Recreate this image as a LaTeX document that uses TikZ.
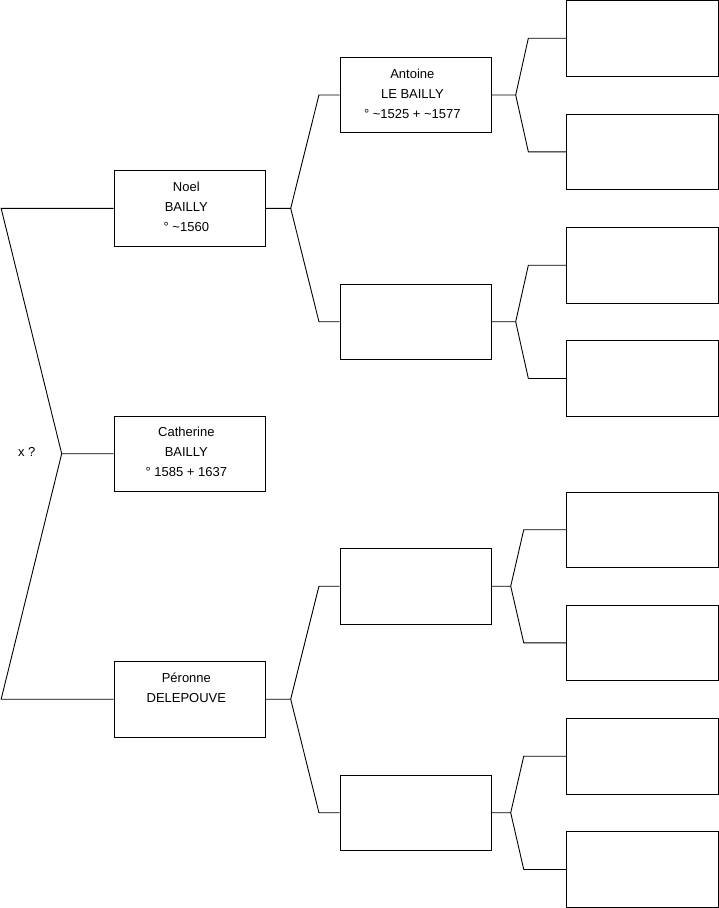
\documentclass[tikz,border=0pt]{standalone}
\usepackage{fontspec}
\setmainfont{Liberation Sans}
\begin{document}
\begin{tikzpicture}[x=1pt,y=-1pt,
  box/.style={draw=black, line width=0.9pt, minimum width=151.5pt, minimum height=75.5pt, inner sep=0pt, anchor=center},
  lbl/.style={anchor=north, align=center, inner sep=0pt, yshift=-11pt, xshift=-3.5pt, font=\fontsize{13}{20}\selectfont},
  link/.style={draw=black, line width=0.9pt, line join=miter}]
\useasboundingbox (0,0) rectangle (719,908);
% generation 1
\node[box, label={[lbl]north:{\rule{0pt}{10pt}Noel\\BAILLY\\° \textasciitilde1560}}] (noel) at (189.85,208.35) {};
\node[box, label={[lbl]north:{\rule{0pt}{10pt}Catherine\\BAILLY\\° 1585 + 1637}}] (cath) at (189.85,453.7) {};
\node[box, label={[lbl]north:{\rule{0pt}{10pt}Péronne\\DELEPOUVE}}] (peronne) at (189.85,699.2) {};
\node[font=\fontsize{13}{20}\selectfont, anchor=base, inner sep=0pt] (xq) at (26.7,456.7) {x ?};
% generation 2
\node[box, label={[lbl]north:{\rule{0pt}{10pt}Antoine\\LE BAILLY\\° \textasciitilde1525 + \textasciitilde1577}}] (antoine) at (415.85,95) {};
\node[box] (b2) at (415.85,321.7) {};
\node[box] (b3) at (415.85,586.2) {};
\node[box] (b4) at (415.85,812.7) {};
% generation 3
\node[box] (g1) at (642.55,38.2) {};
\node[box] (g2) at (642.55,151.8) {};
\node[box] (g3) at (642.55,265.2) {};
\node[box] (g4) at (642.55,378.5) {};
\node[box] (g5) at (642.55,529.7) {};
\node[box] (g6) at (642.55,642.8) {};
\node[box] (g7) at (642.55,756.2) {};
\node[box] (g8) at (642.55,869.5) {};
% junction points
\coordinate (j0) at (61.7,453.7);
\coordinate (j1) at (290.7,208.35);
\coordinate (j2) at (515.7,95);
\coordinate (j3) at (515.7,321.7);
\coordinate (j4) at (290.7,699.2);
\coordinate (j5) at (510.7,586.2);
\coordinate (j6) at (510.7,812.7);
% connectors
\draw[link] (cath.west) -- (j0) -- ([xshift=-112.5pt]noel.west) -- (noel.west);
\draw[link] (j0) -- ([xshift=-112.5pt]peronne.west) -- (peronne.west);
\draw[link] (noel.east) -- (j1) -- ([xshift=-20.7pt]antoine.west) -- (antoine.west);
\draw[link] (j1) -- ([xshift=-20.7pt]b2.west) -- (b2.west);
\draw[link] (peronne.east) -- (j4) -- ([xshift=-20.7pt]b3.west) -- (b3.west);
\draw[link] (j4) -- ([xshift=-20.7pt]b4.west) -- (b4.west);
\draw[link] (antoine.east) -- (j2) -- ([xshift=-38pt]g1.west) -- (g1.west);
\draw[link] (j2) -- ([xshift=-38pt]g2.west) -- (g2.west);
\draw[link] (b2.east) -- (j3) -- ([xshift=-38pt]g3.west) -- (g3.west);
\draw[link] (j3) -- ([xshift=-38pt]g4.west) -- (g4.west);
\draw[link] (b3.east) -- (j5) -- ([xshift=-42.6pt]g5.west) -- (g5.west);
\draw[link] (j5) -- ([xshift=-42.6pt]g6.west) -- (g6.west);
\draw[link] (b4.east) -- (j6) -- ([xshift=-42.6pt]g7.west) -- (g7.west);
\draw[link] (j6) -- ([xshift=-42.6pt]g8.west) -- (g8.west);
\end{tikzpicture}
\end{document}
